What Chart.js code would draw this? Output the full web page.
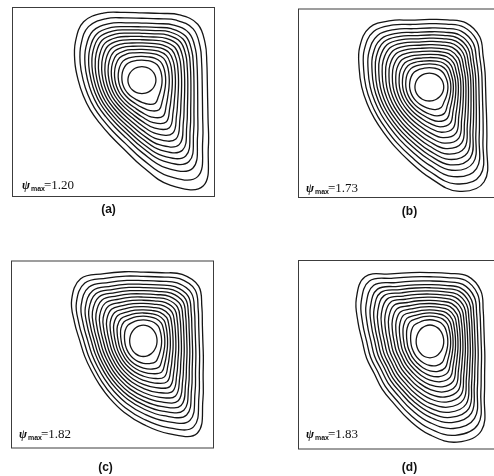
<!DOCTYPE html>
<html><head><meta charset="utf-8">
<script src="https://cdn.jsdelivr.net/npm/chart.js@4.4.1/dist/chart.umd.min.js"></script>
<style>
html,body{margin:0;padding:0;background:#fff;overflow:hidden;width:494px;height:476px;position:relative}
canvas{position:absolute}
</style></head><body>
<canvas id="pa" width="247" height="238" style="left:0;top:0"></canvas>
<canvas id="pb" width="260" height="238" style="left:247px;top:0"></canvas>
<canvas id="pc" width="247" height="238" style="left:0;top:238px"></canvas>
<canvas id="pd" width="260" height="238" style="left:247px;top:238px"></canvas>
<script>
// ---- values ----
// cavity: x 0..1 (width), y 0..0.936 (height / width)
const panelTags = ['(a)', '(b)', '(c)', '(d)'];
const psiMax = ['1.20', '1.73', '1.82', '1.83'];

// directions (degrees) at which the outermost streamline radius was read
const anglesDeg = [0, 15, 30, 45, 60, 75, 90, 105, 120, 135, 150, 165, 180, 195, 210, 225, 240, 255, 270, 285, 300, 315, 330, 345];

// relative position of each streamline between innermost (0) and outermost (1)
const levelsA = [0, 0.12, 0.19, 0.26, 0.32, 0.38, 0.44, 0.50, 0.56, 0.62, 0.68, 0.74, 0.81, 0.90, 1.0];
const levelsB = [0, 0.10, 0.17, 0.23, 0.29, 0.35, 0.41, 0.47, 0.53, 0.59, 0.65, 0.71, 0.77, 0.84, 0.92, 1.0];
const levelsC = [0, 0.10, 0.17, 0.23, 0.29, 0.35, 0.41, 0.47, 0.53, 0.59, 0.65, 0.71, 0.77, 0.84, 0.92, 1.0];
const levelsD = [0, 0.10, 0.17, 0.23, 0.29, 0.35, 0.41, 0.47, 0.53, 0.59, 0.65, 0.71, 0.77, 0.84, 0.92, 1.0];

// vortex centres [x, y]
const centreA = [0.640, 0.576];
const centreB = [0.647, 0.548];
const centreC = [0.652, 0.536];
const centreD = [0.650, 0.534];

// innermost streamline semi-axes [x, y]
const innerA = [0.069, 0.0665];
const innerB = [0.071, 0.069];
const innerC = [0.0675, 0.078];
const innerD = [0.068, 0.081];

// outermost streamline: distance from the centre along each direction
const outerA = [0.322, 0.331, 0.360, 0.389, 0.371, 0.340, 0.331, 0.345, 0.381, 0.406, 0.378, 0.342, 0.314, 0.299, 0.294, 0.297, 0.314, 0.350, 0.424, 0.536, 0.603, 0.463, 0.376, 0.335];
const outerB = [0.277, 0.284, 0.306, 0.351, 0.365, 0.344, 0.334, 0.342, 0.379, 0.416, 0.396, 0.358, 0.333, 0.317, 0.312, 0.318, 0.340, 0.379, 0.446, 0.532, 0.540, 0.400, 0.326, 0.289];
const outerC = [0.293, 0.301, 0.333, 0.385, 0.382, 0.351, 0.342, 0.356, 0.386, 0.437, 0.408, 0.351, 0.313, 0.299, 0.296, 0.307, 0.331, 0.368, 0.416, 0.478, 0.531, 0.415, 0.340, 0.306];
const outerD = [0.268, 0.275, 0.303, 0.354, 0.372, 0.348, 0.340, 0.352, 0.385, 0.452, 0.419, 0.367, 0.333, 0.323, 0.317, 0.333, 0.355, 0.401, 0.462, 0.515, 0.508, 0.379, 0.311, 0.280];

const LINE = '#151515';

// ---- one closed streamline per level ----
function streamlines(centre, inner, outer, levels) {
  const [cx, cy] = centre, [a, b] = inner;
  const dirs = anglesDeg.map(d => [Math.cos(d * Math.PI / 180), Math.sin(d * Math.PI / 180)]);
  const rIn = dirs.map(([ux, uy]) => 1 / Math.sqrt((ux / a) ** 2 + (uy / b) ** 2));
  return levels.map(t => {
    const ring = dirs.map(([ux, uy], j) => {
      const r = rIn[j] + t * (outer[j] - rIn[j]);
      return { x: cx + r * ux, y: cy + r * uy };
    });
    const n = ring.length;
    const data = [ring[n - 1], ...ring, ring[0], ring[1]];
    const last = data.length - 2;
    return {
      data,
      showLine: true,
      pointRadius: 0,
      borderWidth: 1.3,
      borderColor: LINE,
      tension: 0.4,
      fill: false,
      segment: {
        borderColor: c => (c.p0DataIndex === 0 || c.p0DataIndex === last) ? 'rgba(0,0,0,0)' : LINE
      }
    };
  });
}

const deco = {
  id: 'deco',
  afterDraw(chart, args, o) {
    const { ctx, chartArea: A } = chart;
    ctx.save();
    ctx.strokeStyle = '#3c3c3c';
    ctx.lineWidth = 1;
    ctx.strokeRect(A.left + 0.5, A.top + 0.5, A.right - A.left - 1, A.bottom - A.top - 1);
    ctx.fillStyle = '#111';
    ctx.textBaseline = 'alphabetic';
    ctx.textAlign = 'left';
    const x = A.left + o.psiDx, y = A.bottom - o.psiDy;
    ctx.font = 'italic bold 12px "Liberation Serif"';
    ctx.fillText('ψ', x, y);
    ctx.font = 'bold 7px "Liberation Sans"';
    ctx.fillText('max', x + 9, y + 2);
    ctx.font = '13px "Liberation Serif"';
    ctx.fillText('=' + o.psi, x + 22, y);
    ctx.font = 'bold 12px "Liberation Sans"';
    ctx.textAlign = 'center';
    ctx.textBaseline = 'middle';
    ctx.fillText(o.tag, (A.left + A.right) / 2 + o.tagDx, A.bottom + o.tagDy);
    ctx.restore();
  }
};

function panel(id, datasets, pad, i, psiDx, psiDy, tagDx, tagDy) {
  new Chart(document.getElementById(id), {
    type: 'scatter',
    data: { datasets },
    options: {
      responsive: false,
      animation: false,
      devicePixelRatio: 1,
      layout: { padding: pad },
      scales: {
        x: { type: 'linear', min: 0, max: 1, display: false },
        y: { type: 'linear', min: 0, max: 0.936, display: false }
      },
      plugins: {
        legend: { display: false },
        tooltip: { enabled: false },
        deco: { psi: psiMax[i], tag: panelTags[i], psiDx, psiDy, tagDx, tagDy }
      }
    },
    plugins: [deco]
  });
}

panel('pa', streamlines(centreA, innerA, outerA, levelsA), { left: 12, top: 7, right: 32, bottom: 41 }, 0, 10, 8, -5, 13);
panel('pb', streamlines(centreB, innerB, outerB, levelsB), { left: 51, top: 8.5, right: 6, bottom: 40 }, 1, 8, 6, 10, 14);
panel('pc', streamlines(centreC, innerC, outerC, levelsC), { left: 11, top: 22.5, right: 33, bottom: 27.5 }, 2, 8, 11, -7, 19);
panel('pd', streamlines(centreD, innerD, outerD, levelsD), { left: 51, top: 22, right: 6, bottom: 26.5 }, 3, 8, 12, 10, 18);
</script>
</body></html>
